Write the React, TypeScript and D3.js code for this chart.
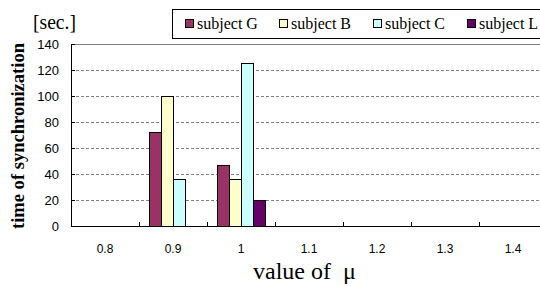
import React from 'react';
import { scaleBand, scaleLinear } from 'd3';

const categories = ['0.8', '0.9', '1', '1.1', '1.2', '1.3', '1.4'];
const subjects = ['subject G', 'subject B', 'subject C', 'subject L'];
const colors = ['#993366', '#FFFFCC', '#CCFFFF', '#660066'];
// values per subject, in category order
const subjectG = [0, 72, 47, 0, 0, 0, 0];
const subjectB = [0, 100, 36, 0, 0, 0, 0];
const subjectC = [0, 36, 125, 0, 0, 0, 0];
const subjectL = [0, 0, 20, 0, 0, 0, 0];
const yTicks = [0, 20, 40, 60, 80, 100, 120, 140];

const series = [subjectG, subjectB, subjectC, subjectL];

const W = 540;
const H = 286;
const margin = { left: 71, top: 44, bottom: 60 };

const App = () => {
  const x = scaleBand()
    .domain(categories)
    .range([margin.left, margin.left + 68 * categories.length]);

  const y = scaleLinear()
    .domain([0, 140])
    .range([H - margin.bottom, margin.top]);

  const groupW = x.bandwidth() * 0.706;
  const x1 = scaleBand().domain(subjects).range([0, groupW]);
  const offset = (x.bandwidth() - groupW) / 2;

  const x0 = margin.left;
  const xEnd = x.range()[1];
  const yBase = y(0);

  const sans = 'Liberation Sans, Arial, sans-serif';
  const serif = 'Liberation Serif, Times New Roman, serif';

  return (
    <svg
      width={W}
      height={H}
      style={{ position: 'absolute', left: 0, top: 0, background: '#fff' }}
    >
      {/* grid lines */}
      {yTicks.slice(1, -1).map(t => (
        <line
          key={'g' + t}
          x1={x0}
          x2={xEnd}
          y1={Math.round(y(t)) + 0.5}
          y2={Math.round(y(t)) + 0.5}
          stroke="#808080"
          strokeDasharray="3,2"
        />
      ))}
      {/* top border */}
      <line x1={x0} x2={xEnd} y1={Math.round(y(140)) + 0.5} y2={Math.round(y(140)) + 0.5} stroke="#808080" />

      {/* bars */}
      {series.map((vals, si) =>
        vals.map((v, ci) =>
          v > 0 ? (
            <rect
              key={si + '-' + ci}
              x={Math.round(x(categories[ci])! + offset + x1(subjects[si])!) + 0.5}
              y={Math.round(y(v)) + 0.5}
              width={Math.round(x1.bandwidth())}
              height={Math.round(yBase - y(v))}
              fill={colors[si]}
              stroke="#000"
              strokeWidth={1}
            />
          ) : null
        )
      )}

      {/* axes */}
      <line x1={x0 + 0.5} x2={x0 + 0.5} y1={y(140)} y2={yBase + 0.5} stroke="#000" />
      <line x1={x0} x2={xEnd} y1={Math.round(yBase) + 0.5} y2={Math.round(yBase) + 0.5} stroke="#000" />
      {yTicks.map(t => (
        <g key={'yt' + t}>
          <line x1={x0} x2={x0 + 4} y1={Math.round(y(t)) + 0.5} y2={Math.round(y(t)) + 0.5} stroke="#000" />
          <text
            x={59}
            y={y(t)}
            dy="0.35em"
            textAnchor="end"
            fontFamily={sans}
            fontSize={13}
            fill="#000"
          >
            {t}
          </text>
        </g>
      ))}
      {categories.map((c, i) => (
        <g key={'xt' + c}>
          {i > 0 && (
            <line
              x1={Math.round(x(c)!) + 0.5}
              x2={Math.round(x(c)!) + 0.5}
              y1={yBase}
              y2={yBase - 4}
              stroke="#000"
            />
          )}
          <text
            x={x(c)! + x.bandwidth() / 2}
            y={253}
            textAnchor="middle"
            fontFamily={sans}
            fontSize={12}
            fill="#000"
          >
            {c}
          </text>
        </g>
      ))}

      {/* titles */}
      <text
        x={0}
        y={0}
        transform={`translate(24,136) rotate(-90)`}
        textAnchor="middle"
        fontFamily={serif}
        fontSize={18}
        fontWeight="bold"
        fill="#000"
        textLength={186}
        lengthAdjust="spacingAndGlyphs"
      >
        time of synchronization
      </text>
      <text
        x={33}
        y={29}
        fontFamily={serif}
        fontSize={21}
        fill="#000"
        textLength={43}
        lengthAdjust="spacingAndGlyphs"
      >
        [sec.]
      </text>
      <text x={253} y={279} fontFamily={serif} fontSize={24} fill="#000">
        {'value of\u00a0\u00a0μ'}
      </text>

      {/* legend */}
      <rect x={172.5} y={9.5} width={380} height={29} fill="#fff" stroke="#000" />
      {subjects.map((s, i) => (
        <g key={'lg' + s} transform={`translate(${185 + i * 94},0)`}>
          <rect x={0.5} y={19.5} width={8} height={8} fill={colors[i]} stroke="#000" />
          <text x={12} y={29} fontFamily={serif} fontSize={16} fill="#000">
            {s}
          </text>
        </g>
      ))}
    </svg>
  );
};

export default App;
